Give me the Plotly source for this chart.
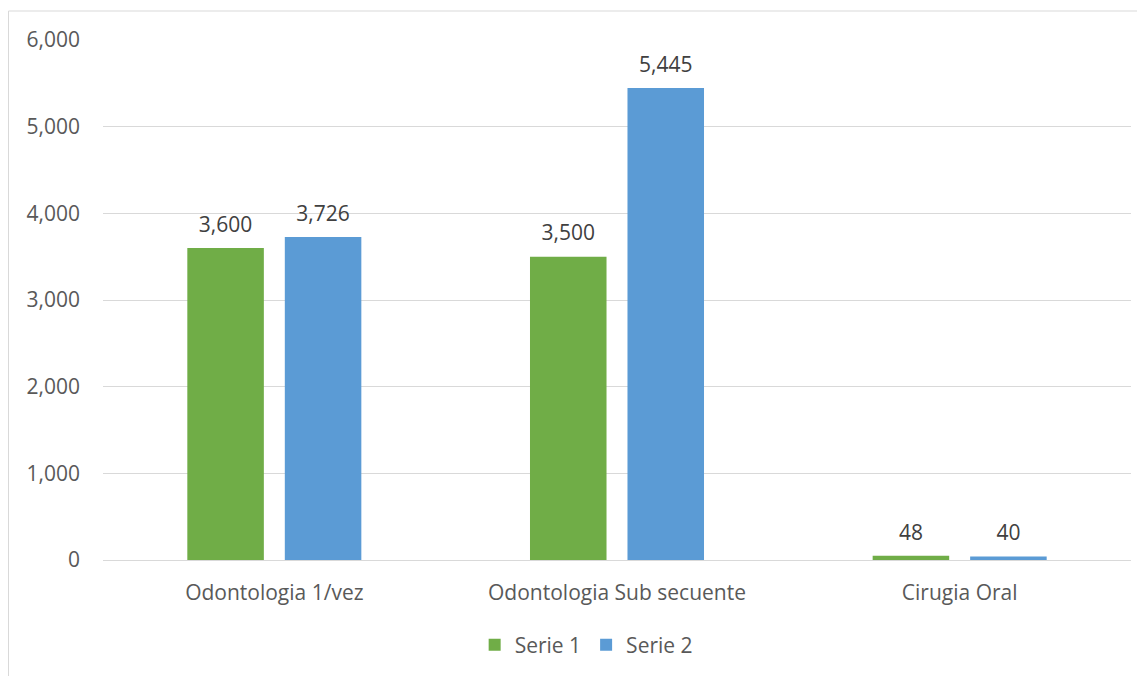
import plotly.graph_objects as go

categories = ["Odontologia 1/vez", "Odontologia Sub secuente", "Cirugia Oral"]
serie1 = [3600, 3500, 48]
serie2 = [3726, 5445, 40]
series_names = ["Serie 1", "Serie 2"]
colors = ["#70AD47", "#5B9BD5"]
y_ticks = [0, 1000, 2000, 3000, 4000, 5000, 6000]

FONT = "Open Sans"
L, R, T, B = 95, 22, 32, 124
PW, PH = 1145 - L - R, 676 - T - B

fig = go.Figure()
for name, vals, col in zip(series_names, [serie1, serie2], colors):
    fig.add_trace(go.Bar(x=categories, y=vals, name=name, marker_color=col,
                         marker_line_width=0, offsetgroup=name))
for name, vals in zip(series_names, [serie1, serie2]):
    fig.add_trace(go.Scatter(x=categories, y=vals, mode="markers+text",
                             text=[f"{v:,}" for v in vals], textposition="top center",
                             textfont=dict(size=21, color="#404040", family=FONT),
                             marker=dict(size=16, opacity=0), offsetgroup=name,
                             showlegend=False, hoverinfo="skip", cliponaxis=False))

fig.update_layout(
    width=1145, height=676,
    barmode="group", scattermode="group", bargap=0.431, bargroupgap=0.215, scattergap=0.431,
    plot_bgcolor="white", paper_bgcolor="white",
    margin=dict(l=L, r=R, t=T, b=B),
    font=dict(family=FONT, size=21, color="#595959"),
    showlegend=True,
    legend=dict(orientation="h", x=0.47, xanchor="center", y=(T + PH - 637) / PH, yanchor="middle",
                font=dict(size=21, color="#595959"), itemwidth=30, traceorder="normal"),
    xaxis=dict(showgrid=False, showline=True, linecolor="#D9D9D9", linewidth=1,
               ticks="", ticklabelstandoff=14),
    yaxis=dict(range=[0, 6000], tickvals=y_ticks, tickformat=",", showgrid=True,
               gridcolor="#D9D9D9", gridwidth=1, zeroline=False, showline=False,
               ticks="", ticklabelstandoff=22),
)
fig.add_shape(type="rect", xref="paper", yref="paper",
              x0=(0.5 - L) / PW, x1=(1170 - L) / PW,
              y0=(T + PH - 700) / PH, y1=(T + PH - 3) / PH,
              line=dict(color="#D9D9D9", width=1), fillcolor="rgba(0,0,0,0)", layer="below")
fig.write_html("out.html")
